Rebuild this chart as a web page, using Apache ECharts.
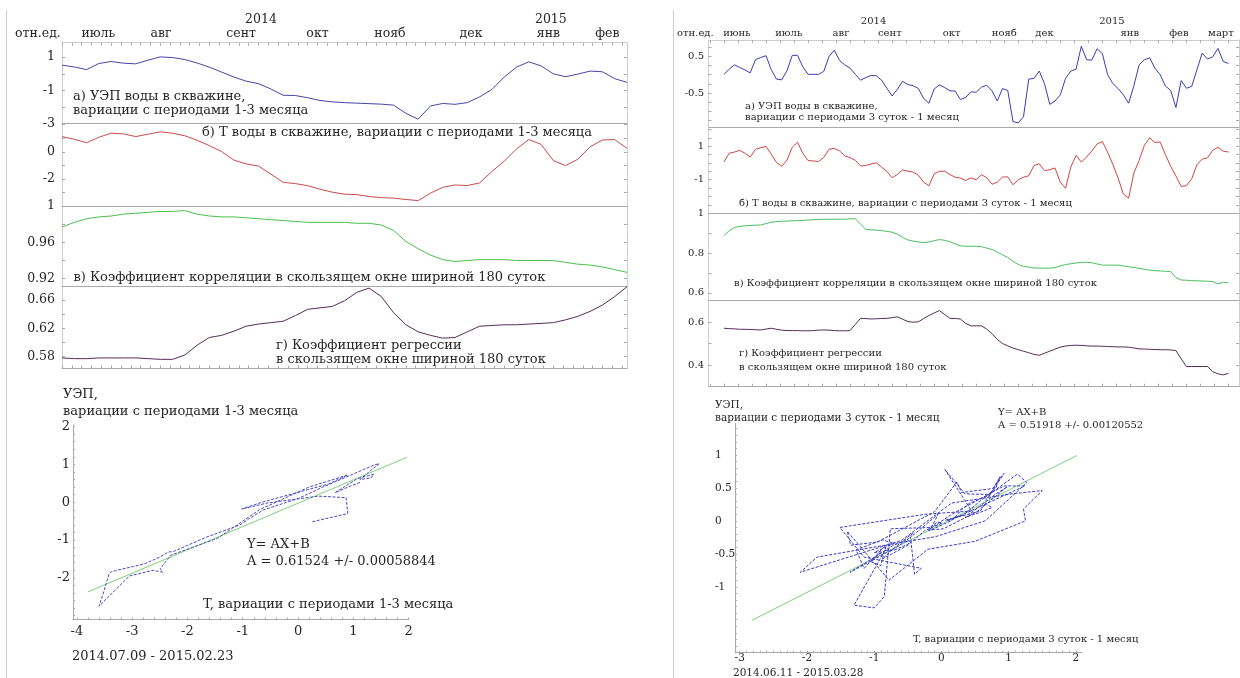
<!DOCTYPE html>
<html><head><meta charset="utf-8">
<script src="https://cdn.jsdelivr.net/npm/echarts@6/dist/echarts.min.js"></script>
<style>html,body{margin:0;padding:0;background:#fff}#c{width:1240px;height:678px}</style>
</head><body><div id="c"></div>
<script>
// ---------------- DATA ----------------
// Left figure: 2014.07.09 - 2015.02.23, one sample every 5 days (day 0..230)
const leftStep = 5;
const leftU = [0.52,0.41,0.25,0.62,0.74,0.64,0.60,0.82,1.02,0.98,0.86,0.65,0.40,0.10,-0.20,-0.45,-0.60,-0.92,-1.30,-1.32,-1.45,-1.62,-1.70,-1.75,-1.78,-1.81,-1.84,-1.90,-2.40,-2.75,-1.95,-1.80,-1.85,-1.75,-1.40,-0.95,-0.20,0.40,0.72,0.48,0.00,-0.18,-0.02,0.16,0.12,-0.30,-0.52];
const leftT = [1.12,0.92,0.67,1.07,1.37,1.32,1.12,1.30,1.47,1.37,1.18,0.85,0.45,0.01,-0.62,-0.90,-1.05,-1.65,-2.25,-2.35,-2.50,-2.76,-2.98,-3.13,-3.16,-3.30,-3.38,-3.42,-3.52,-3.60,-3.05,-2.62,-2.45,-2.49,-2.30,-1.45,-0.70,0.20,0.90,0.55,-0.65,-1.02,-0.55,0.37,0.87,0.90,0.25];
const leftCorr = [.977,.982,.986,.988,.989,.991,.992,.993,.994,.994,.995,.991,.989,.988,.988,.987,.986,.985,.984,.983,.982,.982,.982,.982,.981,.981,.979,.973,.961,.953,.946,.941,.939,.940,.941,.941,.941,.940,.940,.940,.940,.938,.936,.935,.933,.930,.927];
const leftRegr = [.578,.577,.577,.578,.578,.578,.578,.577,.576,.576,.582,.596,.607,.610,.616,.623,.626,.628,.630,.638,.647,.649,.651,.659,.671,.677,.665,.642,.625,.615,.610,.606,.607,.615,.623,.624,.625,.625,.626,.627,.628,.632,.637,.644,.653,.665,.679];
const leftMonths = ['июль','авг','сент','окт','нояб','дек','янв','фев'];
const leftMonthPos = [14.8,40.3,72.9,104,133.5,166.5,198,222];
const leftYears = ['2014','2015'];
const leftYearPos = [81,199];
const leftFitLine = [[-3.80,-2.37],[1.975,1.19]];

// Right figure: 2014.06.11 - 2015.03.28, one sample every 3 days (day 0..288)
const rightStep = 3;
const rightU = [0.01,0.15,0.27,0.20,0.13,0.05,0.41,0.47,0.52,0.14,
 -0.12,-0.14,0.11,0.53,0.53,0.22,0.01,0.01,0.01,0.09,
 0.50,0.67,0.39,0.27,0.18,0.01,-0.15,-0.08,-0.02,-0.03,
 -0.15,-0.37,-0.58,-0.40,-0.18,-0.27,-0.30,-0.38,-0.65,-0.78,
 -0.39,-0.28,-0.35,-0.44,-0.45,-0.68,-0.62,-0.47,-0.48,-0.34,
 -0.29,-0.44,-0.72,-0.38,-0.43,-1.28,-1.32,-1.15,-0.12,-0.10,
 0.10,-0.25,-0.81,-0.72,-0.55,-0.10,0.10,0.15,0.78,0.41,
 0.40,0.71,0.58,0.00,-0.24,-0.38,-0.55,-0.78,-0.30,0.27,
 0.41,0.46,0.18,0.00,-0.31,-0.43,-0.90,-0.16,-0.37,-0.32,
 0.14,0.59,0.43,0.49,0.72,0.36,0.31];
const rightT = [0.06,0.58,0.65,0.75,0.58,0.35,0.81,0.91,0.98,0.53,
 0.03,-0.20,0.17,0.93,1.24,0.58,0.14,0.12,0.08,0.33,
 0.81,0.87,0.72,0.42,0.31,0.16,-0.18,-0.15,-0.06,0.01,
 -0.25,-0.50,-0.88,-0.69,-0.42,-0.49,-0.55,-0.73,-1.15,-1.36,
 -0.65,-0.50,-0.49,-0.69,-0.85,-0.90,-1.05,-0.89,-1.00,-0.70,
 -0.88,-1.27,-1.15,-0.84,-0.83,-1.30,-1.00,-0.85,-0.76,-0.15,
 -0.05,-0.46,-0.40,-0.30,-1.15,-1.51,-0.24,0.45,0.05,0.35,
 0.71,1.13,1.27,0.65,-0.09,-0.90,-1.85,-2.10,-0.60,0.15,
 1.05,1.50,1.22,1.25,0.50,-0.20,-0.78,-1.40,-1.35,-0.95,
 -0.10,0.23,0.30,0.76,0.93,0.70,0.65];
const rightCorr = [.888,.912,.928,.934,.937,.939,.940,.941,.948,.955,
 .958,.960,.961,.962,.963,.964,.966,.968,.969,.970,
 .970,.970,.970,.970,.972,.973,.945,.919,.917,.915,
 .913,.909,.905,.895,.878,.866,.860,.856,.852,.856,
 .862,.868,.864,.857,.846,.836,.834,.834,.834,.832,
 .825,.818,.805,.791,.778,.758,.742,.733,.729,.725,
 .724,.724,.724,.726,.735,.742,.746,.750,.753,.753,
 .751,.745,.739,.739,.739,.739,.735,.731,.727,.723,
 .718,.714,.711,.710,.708,.707,.676,.664,.663,.661,
 .660,.659,.658,.656,.645,.653,.650];
const rightRegr = [.572,.570,.569,.567,.567,.566,.565,.564,.568,.572,
 .567,.563,.561,.561,.561,.560,.560,.561,.563,.564,
 .563,.561,.560,.560,.561,.590,.618,.617,.615,.616,
 .617,.618,.621,.625,.614,.603,.600,.602,.617,.631,
 .643,.654,.636,.618,.617,.615,.594,.583,.583,.583,
 .568,.547,.520,.501,.490,.480,.472,.465,.458,.450,
 .446,.456,.465,.475,.484,.489,.492,.493,.492,.490,
 .489,.489,.488,.487,.486,.485,.485,.484,.480,.476,
 .475,.474,.473,.472,.472,.471,.468,.430,.394,.394,
 .394,.394,.394,.370,.360,.355,.362];
const rightMonths = ['июнь','июль','авг','сент','окт','нояб','дек','янв','фев','март'];
const rightMonthPos = [7.4,37,66.8,94.7,130,160,183,231.7,259.7,283.7];
const rightYears = ['2014','2015'];
const rightYearPos = [85.4,221.5];
const rightFitLine = [[-2.82,-1.51],[2.01,0.99]];

// tick label values
const yLabLa = [1,-1,-3], yLabLb = [0,-2], yLabLc = [1,0.96,0.92], yLabLd = [0.66,0.62,0.58];
const yLabRa = [0.5,-0.5], yLabRb = [1,-1], yLabRc = [1,0.8,0.6], yLabRd = [0.6,0.4];
const sLxLab = [-4,-3,-2,-1,0,1,2], sLyLab = [2,1,0,-1,-2];
const sRxLab = [-3,-2,-1,0,1,2], sRyLab = [1,0.5,0,-0.5,-1];

// ---------------- BUILD ----------------
const FONT = '"DejaVu Serif", "Liberation Serif", serif';
const TXT = '#262626';
const AX = '#a9a9a9';
const AXL = '#cdcdcd';
function seq(a, b, s){ const r=[]; for(let v=a; v<=b+1e-9; v+=s) r.push(+v.toFixed(4)); return r; }
function lookup(vals, names){ return v => { for(let i=0;i<vals.length;i++) if(Math.abs(vals[i]-v)<1e-6) return names[i]; return ''; }; }
function ts(arr, step){ return arr.map((v,i)=>[i*step, v]); }

const grids=[], xAxes=[], yAxes=[], series=[];

function panel(o){
  const gi = grids.length;
  grids.push({left:o.left, top:o.top, width:o.width, height:o.height, containLabel:false});
  const xi = xAxes.length;
  xAxes.push({type:'value', gridIndex:gi, position:'bottom', min:o.xmin, max:o.xmax,
    axisLine:{show:true, onZero:false, lineStyle:{color:AX,width:1}},
    axisTick:{show:!!o.bottomTicks, inside:true, length:3, customValues:o.xTicks, lineStyle:{color:AX}},
    axisLabel:{show:false}, splitLine:{show:false}});
  if(o.header){
    const h=o.header;
    xAxes.push({type:'value', gridIndex:gi, position:'top', min:o.xmin, max:o.xmax,
      axisLine:{show:true, onZero:false, lineStyle:{color:AXL,width:1}},
      axisTick:{show:true, inside:true, length:3, customValues:o.xTicks, lineStyle:{color:AX}},
      axisLabel:{show:true, customValues:h.monthPos, formatter:lookup(h.monthPos,h.months), margin:h.mMargin,
        fontFamily:FONT, fontSize:h.fs, color:TXT},
      splitLine:{show:false}});
    xAxes.push({type:'value', gridIndex:gi, position:'top', min:o.xmin, max:o.xmax,
      axisLine:{show:false}, axisTick:{show:false},
      axisLabel:{show:true, customValues:h.yearPos, formatter:lookup(h.yearPos,h.years), margin:h.yMargin,
        fontFamily:FONT, fontSize:h.fs, color:TXT},
      splitLine:{show:false}});
  }
  const yi = yAxes.length;
  yAxes.push({type:'value', gridIndex:gi, position:'left', min:o.ymin, max:o.ymax,
    axisLine:{show:true, onZero:false, lineStyle:{color:AXL,width:1}},
    axisTick:{show:true, inside:true, length:3, customValues:o.yTicks, lineStyle:{color:AX}},
    axisLabel:{show:true, customValues:o.yLabels, margin:o.lm, align:'right', fontFamily:FONT, fontSize:o.fs, color:TXT},
    splitLine:{show:false}});
  yAxes.push({type:'value', gridIndex:gi, position:'right', min:o.ymin, max:o.ymax,
    axisLine:{show:true, onZero:false, lineStyle:{color:AXL,width:1}},
    axisTick:{show:true, inside:true, length:3, customValues:o.yTicks, lineStyle:{color:AX}},
    axisLabel:{show:false}, splitLine:{show:false}});
  series.push({type:'line', xAxisIndex:xi, yAxisIndex:yi, data:o.data, showSymbol:false, symbol:'none',
    lineStyle:{color:o.color, width:1}, silent:true, clip:true});
}

const LX = 62, LW = 565, RX = 708.5, RW = 530.5;
const lHead = {months:leftMonths, monthPos:leftMonthPos, years:leftYears, yearPos:leftYearPos, fs:12.5, mMargin:2, yMargin:16};
const rHead = {months:rightMonths, monthPos:rightMonthPos, years:rightYears, yearPos:rightYearPos, fs:10, mMargin:1.5, yMargin:14};
const lXT = seq(0,230,4), rXT = seq(-8,294,8);

panel({left:LX, top:42.7, width:LW, height:80.6, xmin:0, xmax:230, ymin:-3, ymax:1.88, yLabels:yLabLa, yTicks:seq(-3,1,1),
  xTicks:lXT, header:lHead, data:ts(leftU,leftStep), color:'#4646a8', lm:7, fs:12.5});
panel({left:LX, top:123.3, width:LW, height:82.7, xmin:0, xmax:230, ymin:-4, ymax:2.1, yLabels:yLabLb, yTicks:seq(-4,2,1),
  xTicks:lXT, data:ts(leftT,leftStep), color:'#cc4a4a', lm:7, fs:12.5});
panel({left:LX, top:206, width:LW, height:80, xmin:0, xmax:230, ymin:0.912, ymax:1.0, yLabels:yLabLc, yTicks:seq(0.92,1,0.02),
  xTicks:lXT, data:ts(leftCorr,leftStep), color:'#4cbf4c', lm:7, fs:12.5});
panel({left:LX, top:286, width:LW, height:82.5, xmin:0, xmax:230, ymin:0.563, ymax:0.68, yLabels:yLabLd, yTicks:seq(0.58,0.68,0.02),
  xTicks:lXT, bottomTicks:true, data:ts(leftRegr,leftStep), color:'#5a2a5a', lm:7, fs:12.5});

panel({left:RX, top:40, width:RW, height:87.7, xmin:-8.8, xmax:294, ymin:-1.45, ymax:0.95, yLabels:yLabRa, yTicks:seq(-1.25,0.75,0.25),
  xTicks:rXT, header:rHead, data:ts(rightU,rightStep), color:'#3c3cb4', lm:4.5, fs:10});
panel({left:RX, top:127.7, width:RW, height:85.6, xmin:-8.8, xmax:294, ymin:-3, ymax:2.1, yLabels:yLabRb, yTicks:seq(-3,2,0.5),
  xTicks:rXT, data:ts(rightT,rightStep), color:'#cf4646', lm:4.5, fs:10});
panel({left:RX, top:213.3, width:RW, height:87.4, xmin:-8.8, xmax:294, ymin:0.56, ymax:1.0, yLabels:yLabRc, yTicks:seq(0.6,1,0.1),
  xTicks:rXT, data:ts(rightCorr,rightStep), color:'#4cbf60', lm:4.5, fs:10});
panel({left:RX, top:300.7, width:RW, height:86, xmin:-8.8, xmax:294, ymin:0.3, ymax:0.7, yLabels:yLabRd, yTicks:seq(0.3,0.7,0.1),
  xTicks:rXT, bottomTicks:true, data:ts(rightRegr,rightStep), color:'#5a2a5a', lm:4.5, fs:10});

function scatterPanel(o){
  const gi = grids.length;
  grids.push({left:o.left, top:o.top, width:o.width, height:o.height});
  const xi = xAxes.length, yi = yAxes.length;
  xAxes.push({type:'value', gridIndex:gi, min:o.xmin, max:o.xmax,
    axisLine:{show:true, onZero:false, lineStyle:{color:AX}},
    axisTick:{show:true, inside:true, length:2, customValues:o.xTicks, lineStyle:{color:AX}},
    axisLabel:{show:true, customValues:o.xLabels, margin:o.xm, fontFamily:FONT, fontSize:o.fs, color:TXT},
    splitLine:{show:false}});
  yAxes.push({type:'value', gridIndex:gi, min:o.ymin, max:o.ymax,
    axisLine:{show:true, onZero:false, lineStyle:{color:AX}},
    axisTick:{show:true, inside:true, length:2, customValues:o.yTicks, lineStyle:{color:AX}},
    axisLabel:{show:true, customValues:o.yLabels, margin:o.ym, align:o.yAlign, fontFamily:FONT, fontSize:o.fs, color:TXT},
    splitLine:{show:false}});
  series.push({type:'line', xAxisIndex:xi, yAxisIndex:yi, data:o.fit, showSymbol:false, symbol:'none',
    lineStyle:{color:'#7fcf7f', width:1}, silent:true});
  series.push({type:'line', xAxisIndex:xi, yAxisIndex:yi, data:o.T.map((t,i)=>[t,o.U[i]]), showSymbol:false, symbol:'none',
    lineStyle:{color:o.color, width:1, type:[3,1.5]}, silent:true, clip:true});
}
scatterPanel({left:73, top:425, width:335.6, height:194.5, xmin:-4.07, xmax:2.0, ymin:-3.1, ymax:2.04,
  xLabels:sLxLab, yLabels:sLyLab, xTicks:seq(-4,2,0.2), yTicks:seq(-3,2,0.2), xm:6, ym:3, yAlign:'right', fs:13,
  T:leftT, U:leftU, fit:leftFitLine, color:'#4a4ac0'});
scatterPanel({left:735, top:423.3, width:347, height:229.4, xmin:-3.07, xmax:2.09, ymin:-2.0, ymax:1.48,
  xLabels:sRxLab, yLabels:sRyLab, xTicks:seq(-3,2,0.1), yTicks:seq(-2,1.4,0.1), xm:0, ym:20, yAlign:'left', fs:10.5,
  T:rightT, U:rightU, fit:rightFitLine, color:'#3a3ac8'});

function txt(s, x, y, fs, align){
  return {type:'text', silent:true, style:{text:s, x:x, y:y, font:fs+'px '+FONT, fill:TXT,
    textAlign:align||'left', textVerticalAlign:'middle', verticalAlign:'middle'}};
}
const graphics = [
  {type:'line', silent:true, shape:{x1:6.5,y1:10,x2:6.5,y2:678}, style:{stroke:'#cfcfcf', lineWidth:1}},
  {type:'line', silent:true, shape:{x1:673.5,y1:10,x2:673.5,y2:678}, style:{stroke:'#cfcfcf', lineWidth:1}},
  txt('отн.ед.', 15, 34, 12.5),
  txt('а) УЭП воды в скважине,', 73, 97, 13),
  txt('вариации с периодами 1-3 месяца', 73, 110.5, 13),
  txt('б) Т воды в скважине, вариации с периодами 1-3 месяца', 202, 133, 13),
  txt('в) Коэффициент корреляции в скользящем окне шириной 180 суток', 73.5, 278, 13),
  txt('г) Коэффициент регрессии', 276, 346, 13),
  txt('в скользящем окне шириной 180 суток', 276, 359.5, 13),
  txt('УЭП,', 63, 395, 13),
  txt('вариации с периодами 1-3 месяца', 63, 412, 13),
  txt('Y= AX+B', 247, 545, 13),
  txt('A = 0.61524 +/- 0.00058844', 247, 562, 13),
  txt('T, вариации с периодами 1-3 месяца', 203, 605, 13),
  txt('2014.07.09 - 2015.02.23', 72, 657, 13),

  txt('отн.ед.', 677, 33.3, 10),
  txt('а) УЭП воды в скважине,', 745, 106, 10),
  txt('вариации с периодами 3 суток - 1 месяц', 745, 117, 10),
  txt('б) Т воды в скважине, вариации с периодами 3 суток - 1 месяц', 739, 203, 10),
  txt('в) Коэффициент корреляции в скользящем окне шириной 180 суток', 734, 283, 10),
  txt('г) Коэффициент регрессии', 739, 353.5, 10),
  txt('в скользящем окне шириной 180 суток', 739, 367, 10),
  txt('УЭП,', 715, 405, 10.5),
  txt('вариации с периодами 3 суток - 1 месяц', 715, 418, 10.5),
  txt('Y= AX+B', 998, 412.5, 10),
  txt('A = 0.51918 +/- 0.00120552', 998, 425, 10),
  txt('T, вариации с периодами 3 суток - 1 месяц', 913, 639, 10),
  txt('2014.06.11 - 2015.03.28', 733, 673, 10.5)
];

const chart = echarts.init(document.getElementById('c'), null, {renderer:'canvas'});
chart.setOption({
  animation:false,
  backgroundColor:'#ffffff',
  grid:grids, xAxis:xAxes, yAxis:yAxes, series:series, graphic:graphics
});
</script>
</body></html>
